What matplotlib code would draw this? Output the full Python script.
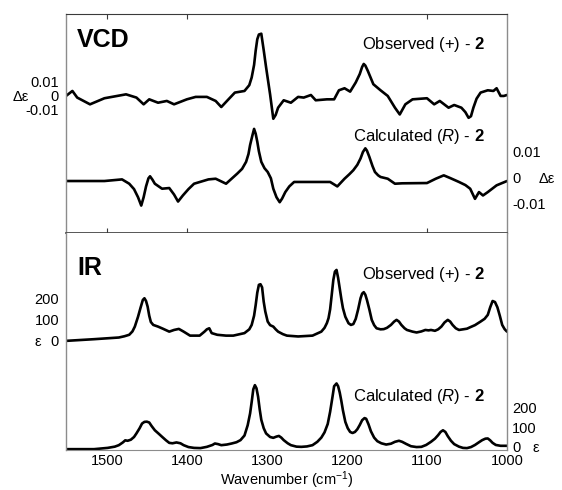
import matplotlib
matplotlib.use("Agg")
import matplotlib.pyplot as plt
import numpy as np

plt.rcParams['font.family'] = ['Liberation Sans', 'DejaVu Sans']
plt.rcParams['mathtext.fontset'] = 'custom'
plt.rcParams['mathtext.rm'] = 'Liberation Sans'
plt.rcParams['mathtext.it'] = 'Liberation Sans:italic'
plt.rcParams['mathtext.bf'] = 'Liberation Sans:bold'

# ---------------- data ----------------
vcd_obs_wn = [1551, 1543, 1537, 1521, 1503, 1476, 1463, 1454, 1447, 1436, 1425, 1416, 1400,
              1389, 1375, 1364, 1357, 1348, 1340, 1328, 1322, 1319, 1316, 1314, 1312, 1310,
              1307, 1304, 1301, 1296, 1292, 1289, 1286, 1279, 1270, 1261, 1254, 1245, 1239,
              1225, 1216, 1210, 1203, 1196, 1189, 1184, 1181, 1179, 1177, 1174, 1170, 1167,
              1158, 1149, 1140, 1134, 1127, 1118, 1100, 1091, 1084, 1073, 1066, 1057, 1052,
              1048, 1045, 1042, 1038, 1033, 1024, 1017, 1013, 1008, 1004, 1000]
vcd_obs_de = [0, 0.0037, -0.0012, -0.0062, -0.0017, 0.0012, -0.0012, -0.0062, -0.0025, -0.0050,
              -0.0037, -0.0062, -0.0025, -0.0007, -0.0007, -0.0037, -0.0082, -0.0025, 0.0025,
              0.0037, 0.0080, 0.0137, 0.0230, 0.0336, 0.0420, 0.0455, 0.0461, 0.0340, 0.0212,
              0.0012, -0.0169, -0.0140, -0.0087, -0.0032, -0.0050, -0.0007, -0.0012, 0.0007,
              -0.0032, -0.0025, -0.0025, 0.0042, 0.0057, 0.0032, 0.0100, 0.0162, 0.0215,
              0.0237, 0.0225, 0.0187, 0.0130, 0.0087, 0.0042, 0, -0.0087, -0.0137, -0.0062,
              -0.0025, -0.0017, -0.0062, -0.0037, -0.0087, -0.0067, -0.0087, -0.0120, -0.0162,
              -0.0150, -0.0087, -0.0020, 0.0025, 0.0042, 0.0037, 0.0057, 0, 0, 0.0007]

vcd_calc_wn = [1551, 1503, 1481, 1472, 1466, 1461, 1457, 1454, 1451, 1448, 1446, 1443, 1440,
               1431, 1422, 1416, 1411, 1405, 1398, 1391, 1373, 1364, 1351, 1337, 1331, 1326,
               1323, 1321, 1318, 1316, 1314, 1312, 1310, 1307, 1303, 1299, 1295, 1292, 1288,
               1284, 1281, 1277, 1272, 1266, 1243, 1221, 1212, 1203, 1197, 1192, 1187, 1183,
               1180, 1177, 1175, 1172, 1168, 1165, 1161, 1158, 1149, 1140, 1131, 1100, 1089,
               1079, 1071, 1060, 1052, 1046, 1040, 1035, 1030, 1024, 1013, 1000]
vcd_calc_de = [0, 0, 0.0012, -0.0020, -0.0060, -0.0120, -0.0182, -0.0120, -0.0040, 0.0020,
               0.0035, 0.0010, -0.0020, -0.0057, -0.0052, -0.0100, -0.0152, -0.0107, -0.0060,
               -0.0020, 0.0012, 0.0017, -0.0020, 0.0055, 0.0090, 0.0142, 0.0200, 0.0266,
               0.0340, 0.0386, 0.0350, 0.0291, 0.0220, 0.0142, 0.0095, 0.0067, 0.0020, -0.0057,
               -0.0120, -0.0157, -0.0130, -0.0082, -0.0040, -0.0007, -0.0007, -0.0007, -0.0040,
               0.0017, 0.0050, 0.0080, 0.0120, 0.0167, 0.0215, 0.0242, 0.0225, 0.0179, 0.0110,
               0.0067, 0.0042, 0.0030, 0.0017, -0.0020, -0.0017, -0.0015, 0.0017, 0.0042,
               0.0022, -0.0007, -0.0030, -0.0057, -0.0132, -0.0082, -0.0107, -0.0082, -0.0032, 0]

ir_obs_wn = [1551, 1516, 1485, 1478, 1472, 1468, 1465, 1461, 1458, 1455, 1453, 1451, 1449,
             1447, 1445, 1442, 1436, 1430, 1422, 1416, 1410, 1404, 1396, 1384, 1378, 1375,
             1372, 1369, 1362, 1351, 1342, 1328, 1322, 1319, 1316, 1314, 1312, 1310, 1308,
             1306, 1304, 1302, 1299, 1296, 1292, 1289, 1286, 1280, 1275, 1261, 1243, 1232,
             1228, 1225, 1223, 1221, 1219, 1217, 1215, 1213, 1211, 1209, 1207, 1205, 1202,
             1198, 1195, 1192, 1189, 1186, 1183, 1181, 1179, 1177, 1175, 1172, 1169, 1166,
             1163, 1158, 1154, 1150, 1145, 1141, 1138, 1135, 1132, 1128, 1125, 1118, 1113,
             1107, 1102, 1098, 1095, 1090, 1086, 1082, 1078, 1074, 1071, 1068, 1064, 1060,
             1055, 1050, 1046, 1040, 1033, 1028, 1024, 1021, 1018, 1015, 1012, 1009, 1006,
             1003, 1000]
ir_obs_eps = [0, 8, 16, 22, 29, 45, 68, 115, 156, 195, 203, 190, 163, 120, 90, 76, 68, 58, 44,
              52, 57, 44, 25, 25, 44, 55, 60, 37, 29, 25, 25, 37, 55, 76, 120, 171, 230, 267,
              270, 255, 187, 140, 92, 75, 68, 55, 44, 32, 25, 21, 25, 44, 62, 85, 108, 150,
              219, 290, 330, 338, 300, 250, 200, 156, 115, 84, 76, 80, 105, 150, 203, 225, 232,
              220, 195, 150, 100, 75, 60, 55, 56, 62, 76, 92, 100, 92, 76, 60, 52, 44, 40, 45,
              52, 50, 52, 48, 55, 68, 88, 100, 92, 76, 60, 52, 55, 58, 65, 75, 92, 105, 124, 160,
              190, 185, 160, 120, 76, 56, 44]

ir_calc_wn = [1551, 1516, 1499, 1490, 1485, 1480, 1477, 1474, 1470, 1466, 1463, 1459, 1456,
              1453, 1450, 1447, 1444, 1440, 1435, 1431, 1426, 1422, 1418, 1413, 1408, 1404,
              1398, 1391, 1383, 1375, 1368, 1365, 1361, 1357, 1350, 1344, 1338, 1333, 1328,
              1324, 1321, 1319, 1317, 1315, 1313, 1311, 1309, 1307, 1304, 1301, 1296, 1292,
              1288, 1285, 1282, 1279, 1274, 1270, 1263, 1257, 1250, 1243, 1237, 1232, 1228,
              1224, 1221, 1218, 1216, 1213, 1211, 1209, 1207, 1205, 1202, 1199, 1196, 1193,
              1190, 1187, 1184, 1181, 1178, 1176, 1173, 1170, 1166, 1162, 1157, 1151, 1145,
              1140, 1135, 1131, 1126, 1120, 1113, 1107, 1101, 1095, 1090, 1086, 1083, 1080,
              1077, 1074, 1070, 1066, 1060, 1055, 1050, 1045, 1040, 1035, 1031, 1027, 1024,
              1021, 1018, 1014, 1008, 1000]
ir_calc_eps = [0, 0, 6, 12, 19, 32, 42, 40, 45, 58, 75, 100, 122, 130, 131, 127, 110, 90, 73,
               59, 42, 30, 28, 32, 28, 19, 10, 6, 5, 11, 20, 27, 24, 19, 22, 27, 33, 43, 65, 114,
               170, 225, 285, 305, 290, 250, 190, 140, 100, 75, 58, 54, 60, 63, 55, 43, 28, 19,
               12, 11, 13, 19, 35, 55, 80, 120, 178, 250, 300, 313, 300, 270, 230, 185, 130,
               100, 82, 77, 82, 95, 115, 138, 148, 145, 118, 85, 55, 38, 28, 22, 26, 35, 40, 35,
               25, 14, 10, 11, 20, 35, 50, 67, 82, 90, 82, 62, 40, 24, 12, 6, 5, 10, 20, 33, 43,
               50, 51, 42, 30, 20, 16, 16]

xticks = [1500, 1400, 1300, 1200, 1100, 1000]
divider_ticks = [1500, 1400, 1100]

# ---------------- layout ----------------
W, H = 562, 490
fig = plt.figure(figsize=(W / 100, H / 100), dpi=100)

def fx(x):
    return x / W

def fy(y):
    return 1 - y / H

L, R = 66, 507
ax1 = fig.add_axes([fx(L), fy(233), fx(R - L), (233 - 14) / H])
ax2 = fig.add_axes([fx(L), fy(450), fx(R - L), (450 - 233) / H])

spine_grey = '#8c8c8c'
dark = '#3a3a3a'
LW = 1.9

# top panel: VCD
obs_off, calc_off = 0.1015, 0.0385
ax1.plot(vcd_obs_wn, np.array(vcd_obs_de) + obs_off, color='black', lw=LW,
         solid_joinstyle='round', solid_capstyle='round')
ax1.plot(vcd_calc_wn, np.array(vcd_calc_de) + calc_off, color='black', lw=LW,
         solid_joinstyle='round', solid_capstyle='round')
ax1.set_ylim(0, 0.1622)

# bottom panel: IR
ir_obs_off = 516
ax2.plot(ir_obs_wn, np.array(ir_obs_eps) + ir_obs_off, color='black', lw=LW,
         solid_joinstyle='round', solid_capstyle='round')
ax2.plot(ir_calc_wn, ir_calc_eps, color='black', lw=LW, solid_joinstyle='round',
         solid_capstyle='round')
ax2.set_ylim(-4, 1030)

for ax in (ax1, ax2):
    ax.set_xlim(1551, 1000)
    ax.set_yticks([])
    for s in ('left', 'right'):
        ax.spines[s].set_color(spine_grey)
        ax.spines[s].set_linewidth(1.0)

ax1.spines['top'].set_color(dark)
ax1.spines['bottom'].set_color(dark)
ax1.spines['bottom'].set_linewidth(1.2)
ax2.spines['top'].set_visible(False)
ax2.spines['bottom'].set_color(spine_grey)

ax1.set_xticks(divider_ticks)
ax1.tick_params(axis='x', which='both', top=True, bottom=True, direction='in',
                length=3.5, width=0.8, color=dark, labelbottom=False)
ax2.set_xticks(xticks)
ax2.set_xticks(divider_ticks, minor=True)
ax2.tick_params(axis='x', which='major', length=0, labelsize=10.5, pad=3)
ax2.tick_params(axis='x', which='minor', top=True, bottom=False, direction='in',
                length=3.5, width=0.8, color=dark)
ax2.set_xlabel('Wavenumber (cm$^{-1}$)', fontsize=10.5, labelpad=1)

# ---------------- texts ----------------
fs_lab = 10.5
def t(x, y, s, ha='left', **kw):
    fig.text(fx(x), fy(y), s, ha=ha, va='center', **kw)

t(77, 40, 'VCD', fontsize=18, fontweight='bold')
t(77, 268, 'IR', fontsize=18, fontweight='bold')

t(485, 45, r'Observed (+) - $\mathbf{2}$', ha='right', fontsize=12)
t(485, 137, r'Calculated ($\mathit{R}$) - $\mathbf{2}$', ha='right', fontsize=12)
t(485, 274, r'Observed (+) - $\mathbf{2}$', ha='right', fontsize=12)
t(485, 397, r'Calculated ($\mathit{R}$) - $\mathbf{2}$', ha='right', fontsize=12)

# left VCD labels
t(59, 83, '0.01', ha='right', fontsize=fs_lab)
t(59, 97, '0', ha='right', fontsize=fs_lab)
t(59, 111, '-0.01', ha='right', fontsize=fs_lab)
t(21, 97, 'Δε', ha='center', fontsize=fs_lab)
# right VCD labels
t(512, 153, '0.01', fontsize=fs_lab)
t(512, 179, '0', fontsize=fs_lab)
t(512, 205, '-0.01', fontsize=fs_lab)
t(547, 179, 'Δε', ha='center', fontsize=fs_lab)
# left IR labels
t(59, 300, '200', ha='right', fontsize=fs_lab)
t(59, 321, '100', ha='right', fontsize=fs_lab)
t(59, 342, '0', ha='right', fontsize=fs_lab)
t(38, 342, 'ε', ha='center', fontsize=fs_lab)
# right IR labels
t(512, 409, '200', fontsize=fs_lab)
t(512, 429, '100', fontsize=fs_lab)
t(512, 448, '0', fontsize=fs_lab)
t(536, 448, 'ε', ha='center', fontsize=fs_lab)

fig.savefig('out.png', dpi=100)
